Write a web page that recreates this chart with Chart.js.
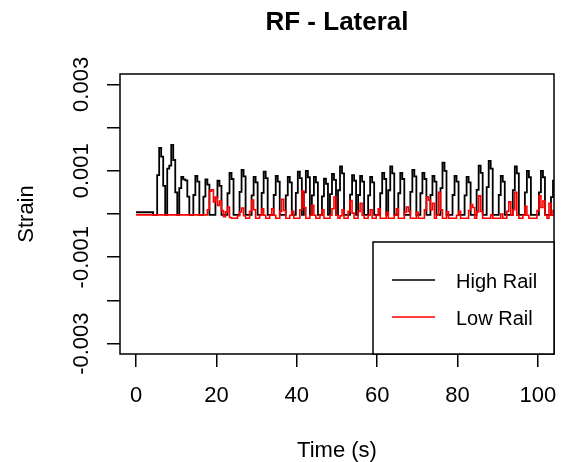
<!DOCTYPE html>
<html>
<head>
<meta charset="utf-8">
<title>RF - Lateral</title>
<script src="https://cdn.jsdelivr.net/npm/chart.js@4.4.1/dist/chart.umd.min.js"></script>
<style>
  html, body { margin: 0; padding: 0; background: #fff; }
  canvas { display: block; }
</style>
</head>
<body>
<canvas id="strainChart" width="564" height="462"></canvas>
<script>
const sampleStep = 0.5;

const highRailMicro = [
    40, 40, 40, 40, 40, 40, 40, 40, 40, -20,            // 0 - 4.5 s
    -20, 900, 1530, 1330, 650, -20, 1050, 1120, 1600, 1250,
    500, -20, 600, 860, 800, 780, 400, -20, -20, 440,
    880, 750, -20, -20, 400, 800, 680, -20, -20, -20,
    380, 770, 650, -20, -20, -20, 480, 950, 810, -20,   // 20 s
    -20, -20, 510, 1020, 870, -20, -20, -20, 430, 860,
    730, -20, -20, 490, 980, 830, -20, -20, -20, 440,
    880, 750, -20, -20, -20, 430, 860, 730, -20, -20,
    490, 980, 830, -20, 500, 1000, 850, -20, 430, 860,  // 40 s
    730, -20, -20, 410, 820, 700, -20, 460, 930, 790,
    -20, 550, 1100, 940, -20, -20, -20, 450, 900, 770,  // 50 s
    -20, 440, 880, 750, -20, -20, 430, 860, 730, -20,
    -20, -20, 480, 950, 810, -20, 550, 1100, 940, -20,  // 60 s
    -20, 480, 950, 810, -20, -20, -20, 510, 1020, 870,
    -20, -20, 480, 950, 810, -20, -20, 440, 880, 750,   // 70 s
    -20, -20, 600, 1190, 1000, -20, -20, -20, 440, 880,
    750, -20, -20, -20, 430, 860, 730, -20, -20, -20,   // 80 s
    560, 1120, 950, -20, -20, 620, 1230, 1050, -20, -20,
    -20, 440, 880, 750, -20, -20, -20, -20, 550, 1100,  // 90 s
    940, -20, -20, -20, 500, 1000, 850, -20, -20, -20,
    -20, 500, 1000, 850, -20, -20, -20, 390, 770        // 100 - 104 s
];

const lowRailMicro = [
    -20, -20, -20, -20, -20, -20, -20, -20, -20, -20,
    -20, -20, -20, -20, -20, -20, -20, -20, -20, -20,
    -20, -20, -20, -20, -20, -20, -20, -20, -20, -20,
    -20, -20, -20, -20, -20, -20, 100, 530, 560, 280,
    390, 200, 300, 80, -60, 50, 160, -80, -100, -100,   // 20 s
    -100, -40, 50, 140, -40, -100, -100, 60, 320, 100,
    -100, -100, -30, 120, -30, -100, -100, -30, 120, -30,
    -100, -100, 60, 340, 80, -100, -100, -30, 60, -100,
    -100, -100, 100, 530, 150, -100, -100, -30, 200, -30, // 40 s
    -100, -100, -30, 100, -100, -100, -100, -30, 120, 390,
    -30, -100, -40, 100, -100, -100, 60, 310, 20, -100, // 50 s
    -100, 60, 250, -30, -100, -100, -30, 100, -100, -100,
    -30, 120, -100, -100, -100, 40, -100, -100, -100, -30, // 60 s
    120, -100, -100, -100, 40, 160, 60, -100, -100, -100,
    40, -100, -100, -100, 100, 400, 320, 100, 250, -100, // 70 s
    -30, 500, 100, -100, -100, 50, -100, -100, -100, -100,
    -30, 60, -100, -100, -100, -100, 80, 220, 150, -100, // 80 s
    50, 420, 60, -100, -100, -100, -100, -20, -100, -100,
    -100, -100, 0, -100, -100, 60, 280, -30, 100, 500,  // 90 s
    -30, -100, -100, -30, 180, -30, -100, -100, -100, -100,
    80, 420, 150, 300, -30, -100, 250, -30, 80          // 100 - 104 s
];

const xTicks = [0, 20, 40, 60, 80, 100];
const yTicks = [-0.003, -0.002, -0.001, 0, 0.001, 0.002, 0.003];
const yTickLabels = ['-0.003', '', '-0.001', '', '0.001', '', '0.003'];
const seriesNames = ['High Rail', 'Low Rail'];
const seriesColors = ['#000000', '#ff0000'];

const FONT = '"Liberation Sans", Arial, sans-serif';

function toPoints(values) {
    return values.map((v, i) => ({ x: i * sampleStep, y: v / 1e6 }));
}

// R style frame, labels and legend box
const rPlotDecor = {
    id: 'rPlotDecor',
    afterDraw(chart) {
        const ctx = chart.ctx;
        const area = chart.chartArea;
        const xs = chart.scales.x;
        const ys = chart.scales.y;

        ctx.save();
        ctx.strokeStyle = '#000';
        ctx.lineWidth = 1.5;
        ctx.strokeRect(area.left, area.top, area.right - area.left, area.bottom - area.top);

        ctx.fillStyle = '#000';
        ctx.textBaseline = 'alphabetic';

        // title
        ctx.font = 'bold 26px ' + FONT;
        ctx.textAlign = 'center';
        ctx.fillText('RF - Lateral', (area.left + area.right) / 2, 30);

        // x tick labels + title
        ctx.font = '22px ' + FONT;
        xTicks.forEach(v => {
            ctx.fillText(String(v), xs.getPixelForValue(v), 402);
        });
        ctx.fillText('Time (s)', (area.left + area.right) / 2, 457);

        // y tick labels (rotated like R's default las=0)
        yTicks.forEach((v, i) => {
            if (!yTickLabels[i]) return;
            ctx.save();
            ctx.translate(88, ys.getPixelForValue(v));
            ctx.rotate(-Math.PI / 2);
            ctx.fillText(yTickLabels[i], 0, 0);
            ctx.restore();
        });
        ctx.save();
        ctx.translate(33, (area.top + area.bottom) / 2);
        ctx.rotate(-Math.PI / 2);
        ctx.fillText('Strain', 0, 0);
        ctx.restore();

        // legend
        const lx = 373, ly = 242;
        ctx.fillStyle = '#fff';
        ctx.fillRect(lx, ly, area.right - lx, area.bottom - ly);
        ctx.strokeStyle = '#000';
        ctx.lineWidth = 1.5;
        ctx.strokeRect(lx, ly, area.right - lx, area.bottom - ly);

        ctx.font = '20px ' + FONT;
        ctx.textAlign = 'left';
        const rows = [280, 317];
        seriesNames.forEach((name, i) => {
            ctx.strokeStyle = seriesColors[i];
            ctx.lineWidth = 1.5;
            ctx.beginPath();
            ctx.moveTo(392, rows[i]);
            ctx.lineTo(435, rows[i]);
            ctx.stroke();
            ctx.fillStyle = '#000';
            ctx.fillText(name, 456, rows[i] + 8);
        });
        ctx.restore();
    }
};

new Chart(document.getElementById('strainChart'), {
    type: 'line',
    data: {
        datasets: [
            {
                label: seriesNames[0],
                data: toPoints(highRailMicro),
                borderColor: seriesColors[0],
                borderWidth: 1.8,
                pointRadius: 0,
                stepped: 'middle',
                order: 2
            },
            {
                label: seriesNames[1],
                data: toPoints(lowRailMicro),
                borderColor: seriesColors[1],
                borderWidth: 1.6,
                pointRadius: 0,
                stepped: 'middle',
                order: 1
            }
        ]
    },
    options: {
        responsive: false,
        animation: false,
        devicePixelRatio: 1,
        layout: { padding: { top: 74, right: 10, left: 0, bottom: 0 } },
        plugins: {
            legend: { display: false },
            tooltip: { enabled: false }
        },
        scales: {
            x: {
                type: 'linear',
                min: -4,
                max: 104,
                afterBuildTicks: s => { s.ticks = xTicks.map(v => ({ value: v })); },
                afterFit: s => { s.height = 108; },
                ticks: { display: false },
                grid: { drawOnChartArea: false, drawTicks: true, tickLength: 13, color: '#000', lineWidth: 1.5 },
                border: { display: false }
            },
            y: {
                min: -0.00324,
                max: 0.00324,
                afterBuildTicks: s => { s.ticks = yTicks.map(v => ({ value: v })); },
                afterFit: s => { s.width = 120; },
                ticks: { display: false },
                grid: { drawOnChartArea: false, drawTicks: true, tickLength: 13, color: '#000', lineWidth: 1.5 },
                border: { display: false }
            }
        }
    },
    plugins: [rPlotDecor]
});
</script>
</body>
</html>
